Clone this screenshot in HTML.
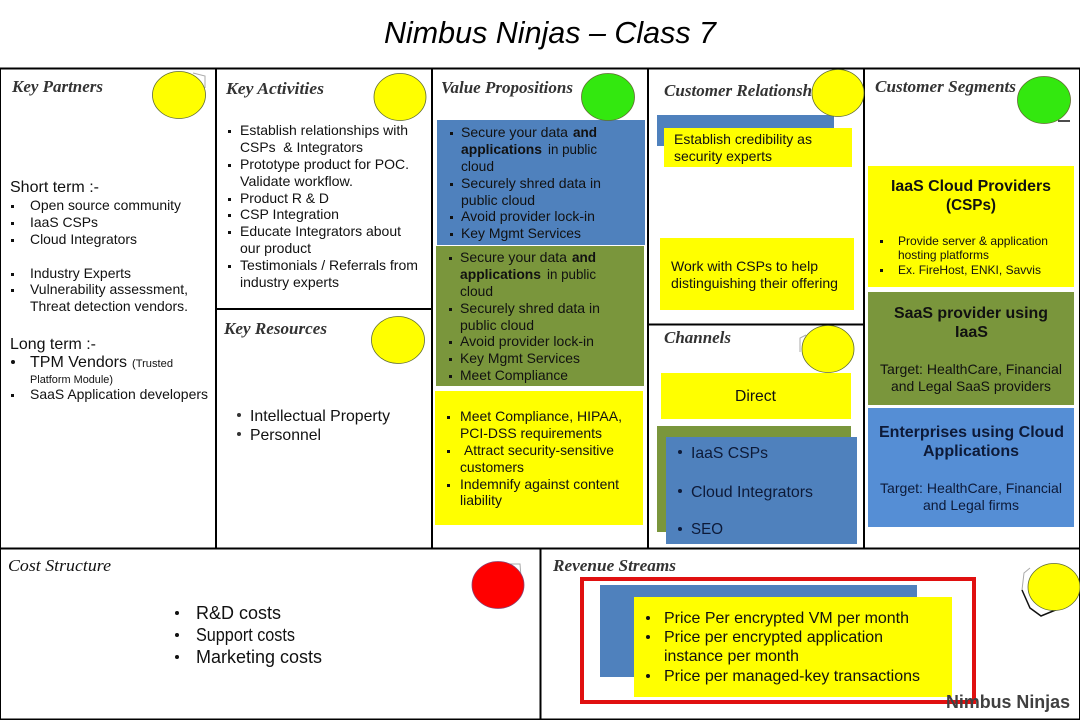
<!DOCTYPE html>
<html><head><meta charset="utf-8"><style>
html,body{margin:0;padding:0;background:#fff}
svg{display:block}
text{font-family:"Liberation Sans",sans-serif;font-size:14px;fill:#111;white-space:pre}
.h{font-family:"Liberation Serif",serif;font-weight:bold;font-style:italic;font-size:17px;fill:#333}
.b{font-weight:bold}
.l{font-size:16px}
.lb{font-size:16px;font-weight:bold}
</style></head><body>
<svg width="1080" height="720" viewBox="0 0 1080 720" xmlns="http://www.w3.org/2000/svg">
<rect width="1080" height="720" fill="#fff"/>
<text x="384" y="43" textLength="332" lengthAdjust="spacingAndGlyphs" style="font-size:31px;font-style:italic;fill:#000">Nimbus Ninjas – Class 7</text>

<!-- grid -->
<g stroke="#000" stroke-width="2" fill="none">
<rect x="0" y="68.5" width="1080" height="651"/>
<path d="M216 68V548M432 68V548M648 68V548M864 68V548M0 548.500H1080M540.500 548V720M216 309H432M648 324.500H864"/>
</g>

<!-- coloured boxes -->
<rect x="437" y="120" width="208" height="125" fill="#4f81bd"/>
<rect x="436" y="246" width="208" height="140" fill="#7a963c"/>
<rect x="435" y="391" width="208" height="134" fill="#ffff00"/>
<rect x="657" y="115" width="177" height="31" fill="#4f81bd"/>
<rect x="664" y="128" width="188" height="39" fill="#ffff00"/>
<rect x="660" y="238" width="194" height="72" fill="#ffff00"/>
<rect x="661" y="373" width="190" height="46" fill="#ffff00"/>
<rect x="657" y="426" width="194" height="106" fill="#7a963c"/>
<rect x="666" y="437" width="191" height="107" fill="#4f81bd"/>
<rect x="868" y="166" width="206" height="121" fill="#ffff00"/>
<rect x="868" y="292" width="206" height="113" fill="#7a963c"/>
<rect x="868" y="408" width="206" height="119" fill="#558ed5"/>
<rect x="600" y="585" width="317" height="92" fill="#4f81bd"/>
<rect x="634" y="597" width="318" height="100" fill="#ffff00"/>

<!-- section headings -->
<text class="h" x="12" y="92" textLength="91" lengthAdjust="spacingAndGlyphs">Key Partners</text>
<text class="h" x="226" y="94" textLength="98" lengthAdjust="spacingAndGlyphs">Key Activities</text>
<text class="h" x="224" y="334" textLength="103" lengthAdjust="spacingAndGlyphs">Key Resources</text>
<text class="h" x="441" y="93" textLength="132" lengthAdjust="spacingAndGlyphs">Value Propositions</text>
<text class="h" x="664" y="96" textLength="168" lengthAdjust="spacingAndGlyphs">Customer Relationships</text>
<text class="h" x="664" y="343" textLength="67" lengthAdjust="spacingAndGlyphs">Channels</text>
<text class="h" x="875" y="92" textLength="141" lengthAdjust="spacingAndGlyphs">Customer Segments</text>
<text class="h" x="8" y="571" textLength="103" lengthAdjust="spacingAndGlyphs" style="font-weight:normal;fill:#111">Cost Structure</text>
<text class="h" x="553" y="571" textLength="123" lengthAdjust="spacingAndGlyphs">Revenue Streams</text>

<!-- icons behind circles -->
<g fill="none" stroke="#aaa" stroke-width="1">
<path d="M193 73L205 76V88"/>
<path d="M1030 568L1024 573L1022 590"/>
<path d="M806 335L800 338V352"/>
<path d="M510 564H520L522 590"/>
</g>
<path d="M1022 590L1030 608L1041 616L1058 609" fill="none" stroke="#111" stroke-width="1.500"/>
<path d="M628 105L618 116" stroke="#222" stroke-width="2.500"/>
<path d="M1058 121H1070" stroke="#111" stroke-width="1.500"/>

<!-- circles -->
<g stroke="#5f6b30" stroke-width="0.800">
<ellipse cx="179" cy="95" rx="26.500" ry="23.500" fill="#ffff00"/>
<ellipse cx="400" cy="97" rx="26" ry="23.500" fill="#ffff00"/>
<ellipse cx="398" cy="340" rx="26.500" ry="23.500" fill="#ffff00"/>
<ellipse cx="608" cy="97" rx="26.500" ry="23.500" fill="#33e80f"/>
<ellipse cx="838" cy="93" rx="26" ry="23.500" fill="#ffff00"/>
<ellipse cx="1044" cy="100" rx="26.500" ry="23.500" fill="#33e80f"/>
<ellipse cx="828" cy="349" rx="26" ry="23.500" fill="#ffff00"/>
<ellipse cx="1054" cy="587" rx="26" ry="23.500" fill="#ffff00"/>
<ellipse cx="498" cy="585" rx="26" ry="23.500" fill="#ff0000" stroke="#8a4070"/>
</g>

<!-- Key Partners -->
<g>
<text class="l" x="10" y="192" textLength="89" lengthAdjust="spacingAndGlyphs">Short term :-</text>
<text x="30" y="210" textLength="151" lengthAdjust="spacingAndGlyphs">Open source community</text>
<text x="30" y="227" textLength="68" lengthAdjust="spacingAndGlyphs">IaaS CSPs</text>
<text x="30" y="244" textLength="107" lengthAdjust="spacingAndGlyphs">Cloud Integrators</text>
<text x="30" y="278" textLength="101" lengthAdjust="spacingAndGlyphs">Industry Experts</text>
<text x="30" y="294" textLength="158" lengthAdjust="spacingAndGlyphs">Vulnerability assessment,</text>
<text x="30" y="311" textLength="158" lengthAdjust="spacingAndGlyphs">Threat detection vendors.</text>
<text class="l" x="10" y="349" textLength="86" lengthAdjust="spacingAndGlyphs">Long term :-</text>
<text class="l" x="30" y="367" textLength="97" lengthAdjust="spacingAndGlyphs">TPM Vendors</text>
<text x="132" y="367" textLength="41" lengthAdjust="spacingAndGlyphs" style="font-size:11px">(Trusted</text>
<text x="30" y="383" textLength="83" lengthAdjust="spacingAndGlyphs" style="font-size:11px">Platform Module)</text>
<text x="30" y="399" textLength="178" lengthAdjust="spacingAndGlyphs">SaaS Application developers</text>
<g fill="#111">
<rect x="11" y="205" width="3" height="3"/><rect x="11" y="222" width="3" height="3"/><rect x="11" y="239" width="3" height="3"/>
<rect x="11" y="273" width="3" height="3"/><rect x="11" y="289" width="3" height="3"/><rect x="11" y="394" width="3" height="3"/>
<circle cx="13" cy="362" r="2"/>
</g>
</g>

<!-- Key Activities -->
<text x="240" y="135" textLength="168" lengthAdjust="spacingAndGlyphs">Establish relationships with</text>
<text x="240" y="152" textLength="123" lengthAdjust="spacingAndGlyphs">CSPs  &amp; Integrators</text>
<text x="240" y="169" textLength="169" lengthAdjust="spacingAndGlyphs">Prototype product for POC.</text>
<text x="240" y="186" textLength="113" lengthAdjust="spacingAndGlyphs">Validate workflow.</text>
<text x="240" y="203" textLength="89" lengthAdjust="spacingAndGlyphs">Product R &amp; D</text>
<text x="240" y="219" textLength="99" lengthAdjust="spacingAndGlyphs">CSP Integration</text>
<text x="240" y="236" textLength="161" lengthAdjust="spacingAndGlyphs">Educate Integrators about</text>
<text x="240" y="253" textLength="71" lengthAdjust="spacingAndGlyphs">our product</text>
<text x="240" y="270" textLength="178" lengthAdjust="spacingAndGlyphs">Testimonials / Referrals from</text>
<text x="240" y="287" textLength="99" lengthAdjust="spacingAndGlyphs">industry experts</text>
<g fill="#111">
<rect x="228" y="130" width="3" height="3"/><rect x="228" y="164" width="3" height="3"/><rect x="228" y="198" width="3" height="3"/>
<rect x="228" y="214" width="3" height="3"/><rect x="228" y="231" width="3" height="3"/><rect x="228" y="265" width="3" height="3"/>
</g>

<!-- Key Resources -->
<text class="l" x="250" y="421" textLength="140" lengthAdjust="spacingAndGlyphs">Intellectual Property</text>
<text class="l" x="250" y="440" textLength="71" lengthAdjust="spacingAndGlyphs">Personnel</text>
<circle cx="239" cy="415" r="2" fill="#333"/><circle cx="239" cy="434" r="2" fill="#333"/>

<!-- Value Propositions: blue -->
<text x="461" y="137" textLength="107" lengthAdjust="spacingAndGlyphs">Secure your data</text>
<text class="b" x="573" y="137" textLength="24" lengthAdjust="spacingAndGlyphs">and</text>
<text class="b" x="461" y="154" textLength="81" lengthAdjust="spacingAndGlyphs">applications</text>
<text x="548" y="154" textLength="49" lengthAdjust="spacingAndGlyphs">in public</text>
<text x="461" y="171" textLength="33" lengthAdjust="spacingAndGlyphs">cloud</text>
<text x="461" y="188" textLength="140" lengthAdjust="spacingAndGlyphs">Securely shred data in</text>
<text x="461" y="205" textLength="74" lengthAdjust="spacingAndGlyphs">public cloud</text>
<text x="461" y="221" textLength="134" lengthAdjust="spacingAndGlyphs">Avoid provider lock-in</text>
<text x="461" y="238" textLength="120" lengthAdjust="spacingAndGlyphs">Key Mgmt Services</text>
<g fill="#111">
<rect x="450" y="132" width="3" height="3"/><rect x="450" y="183" width="3" height="3"/><rect x="450" y="216" width="3" height="3"/><rect x="450" y="233" width="3" height="3"/>
</g>

<!-- Value Propositions: green -->
<text x="460" y="262" textLength="107" lengthAdjust="spacingAndGlyphs">Secure your data</text>
<text class="b" x="572" y="262" textLength="24" lengthAdjust="spacingAndGlyphs">and</text>
<text class="b" x="460" y="279" textLength="81" lengthAdjust="spacingAndGlyphs">applications</text>
<text x="547" y="279" textLength="49" lengthAdjust="spacingAndGlyphs">in public</text>
<text x="460" y="296" textLength="33" lengthAdjust="spacingAndGlyphs">cloud</text>
<text x="460" y="313" textLength="140" lengthAdjust="spacingAndGlyphs">Securely shred data in</text>
<text x="460" y="330" textLength="74" lengthAdjust="spacingAndGlyphs">public cloud</text>
<text x="460" y="346" textLength="134" lengthAdjust="spacingAndGlyphs">Avoid provider lock-in</text>
<text x="460" y="363" textLength="120" lengthAdjust="spacingAndGlyphs">Key Mgmt Services</text>
<text x="460" y="380" textLength="108" lengthAdjust="spacingAndGlyphs">Meet Compliance</text>
<g fill="#111">
<rect x="449" y="257" width="3" height="3"/><rect x="449" y="308" width="3" height="3"/><rect x="449" y="341" width="3" height="3"/><rect x="449" y="358" width="3" height="3"/><rect x="449" y="375" width="3" height="3"/>
</g>

<!-- Value Propositions: yellow -->
<text x="460" y="421" textLength="162" lengthAdjust="spacingAndGlyphs">Meet Compliance, HIPAA,</text>
<text x="460" y="438" textLength="142" lengthAdjust="spacingAndGlyphs">PCI-DSS requirements</text>
<text x="464" y="455" textLength="150" lengthAdjust="spacingAndGlyphs">Attract security-sensitive</text>
<text x="460" y="472" textLength="64" lengthAdjust="spacingAndGlyphs">customers</text>
<text x="460" y="489" textLength="159" lengthAdjust="spacingAndGlyphs">Indemnify against content</text>
<text x="460" y="505" textLength="42" lengthAdjust="spacingAndGlyphs">liability</text>
<g fill="#111">
<rect x="447" y="416" width="3" height="3"/><rect x="447" y="450" width="3" height="3"/><rect x="447" y="484" width="3" height="3"/>
</g>

<!-- Customer Relationships -->
<text x="674" y="144" textLength="138" lengthAdjust="spacingAndGlyphs">Establish credibility as</text>
<text x="674" y="161" textLength="98" lengthAdjust="spacingAndGlyphs">security experts</text>
<text x="671" y="271" textLength="147" lengthAdjust="spacingAndGlyphs">Work with CSPs to help</text>
<text x="671" y="288" textLength="167" lengthAdjust="spacingAndGlyphs">distinguishing their offering</text>

<!-- Channels -->
<text class="l" x="735" y="401" textLength="41" lengthAdjust="spacingAndGlyphs">Direct</text>
<text class="l" x="691" y="458" textLength="77" lengthAdjust="spacingAndGlyphs" style="fill:#0d1a38">IaaS CSPs</text>
<text class="l" x="691" y="497" textLength="122" lengthAdjust="spacingAndGlyphs" style="fill:#0d1a38">Cloud Integrators</text>
<text class="l" x="691" y="534" textLength="32" lengthAdjust="spacingAndGlyphs" style="fill:#0d1a38">SEO</text>
<g fill="#0d1a38"><circle cx="680" cy="452" r="2"/><circle cx="680" cy="491" r="2"/><circle cx="680" cy="529" r="2"/></g>

<!-- Customer Segments -->
<text class="lb" x="891" y="191" textLength="160" lengthAdjust="spacingAndGlyphs">IaaS Cloud Providers</text>
<text class="lb" x="946" y="210" textLength="50" lengthAdjust="spacingAndGlyphs">(CSPs)</text>
<text x="898" y="245" textLength="150" lengthAdjust="spacingAndGlyphs" style="font-size:12px">Provide server &amp; application</text>
<text x="898" y="259" textLength="91" lengthAdjust="spacingAndGlyphs" style="font-size:12px">hosting platforms</text>
<text x="898" y="274" textLength="143" lengthAdjust="spacingAndGlyphs" style="font-size:12px">Ex. FireHost, ENKI, Savvis</text>
<rect x="880" y="240" width="3" height="3" fill="#111"/><rect x="880" y="269" width="3" height="3" fill="#111"/>

<text class="lb" x="894" y="318" textLength="154" lengthAdjust="spacingAndGlyphs">SaaS provider using</text>
<text class="lb" x="955" y="337" textLength="33" lengthAdjust="spacingAndGlyphs">IaaS</text>
<text x="880" y="374" textLength="182" lengthAdjust="spacingAndGlyphs">Target: HealthCare, Financial</text>
<text x="891" y="391" textLength="160" lengthAdjust="spacingAndGlyphs">and Legal SaaS providers</text>

<text class="lb" x="879" y="437" textLength="185" lengthAdjust="spacingAndGlyphs" style="fill:#0d1a38">Enterprises using Cloud</text>
<text class="lb" x="923" y="456" textLength="96" lengthAdjust="spacingAndGlyphs" style="fill:#0d1a38">Applications</text>
<text x="880" y="493" textLength="182" lengthAdjust="spacingAndGlyphs" style="fill:#0d1a38">Target: HealthCare, Financial</text>
<text x="923" y="510" textLength="96" lengthAdjust="spacingAndGlyphs" style="fill:#0d1a38">and Legal firms</text>

<!-- Cost Structure -->
<text x="196" y="619" textLength="85" lengthAdjust="spacingAndGlyphs" style="font-size:18px">R&amp;D costs</text>
<text x="196" y="641" textLength="99" lengthAdjust="spacingAndGlyphs" style="font-size:18px">Support costs</text>
<text x="196" y="663" textLength="126" lengthAdjust="spacingAndGlyphs" style="font-size:18px">Marketing costs</text>
<g fill="#111"><circle cx="177" cy="613" r="2"/><circle cx="177" cy="635" r="2"/><circle cx="177" cy="657" r="2"/></g>

<!-- Revenue Streams -->
<text class="l" x="664" y="623" textLength="245" lengthAdjust="spacingAndGlyphs">Price Per encrypted VM per month</text>
<text class="l" x="664" y="642" textLength="219" lengthAdjust="spacingAndGlyphs">Price per encrypted application</text>
<text class="l" x="664" y="661" textLength="135" lengthAdjust="spacingAndGlyphs">instance per month</text>
<text class="l" x="664" y="681" textLength="256" lengthAdjust="spacingAndGlyphs">Price per managed-key transactions</text>
<g fill="#111"><circle cx="648" cy="618" r="2"/><circle cx="648" cy="637" r="2"/><circle cx="648" cy="676" r="2"/></g>

<rect x="582" y="579" width="392" height="123" fill="none" stroke="#e01010" stroke-width="4"/>
<text class="b" x="946" y="708" textLength="124" lengthAdjust="spacingAndGlyphs" style="font-size:18px;fill:#404040">Nimbus Ninjas</text>
</svg>
</body></html>
